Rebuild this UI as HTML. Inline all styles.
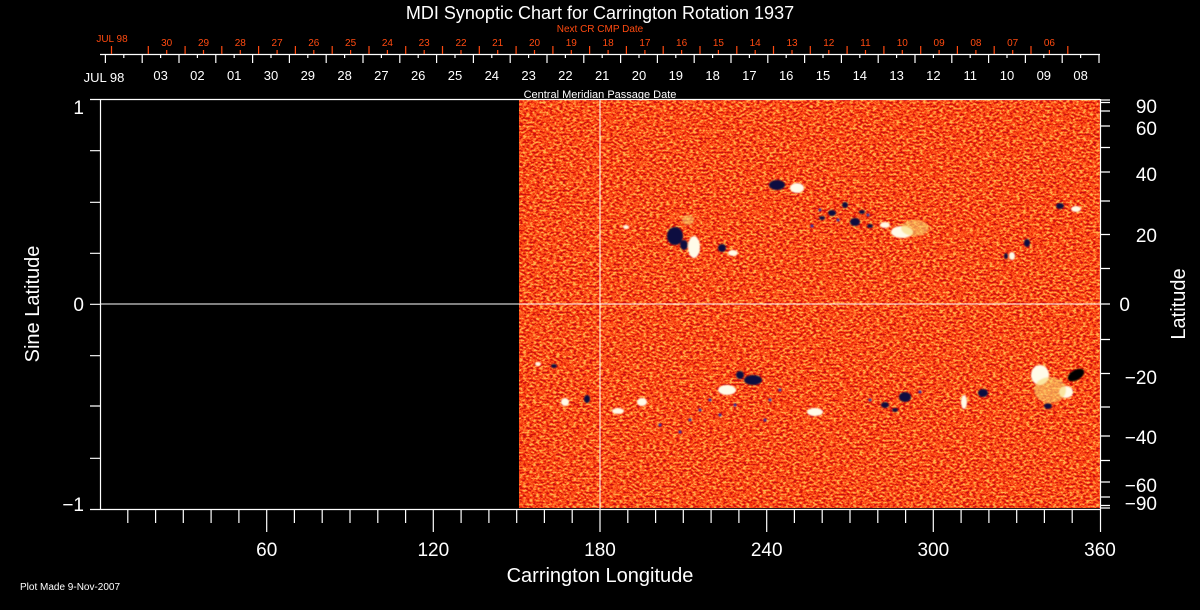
<!DOCTYPE html>
<html><head><meta charset="utf-8"><style>
html,body{margin:0;padding:0;background:#000;}
svg{display:block}
text{font-family:"Liberation Sans",sans-serif;}
</style></head><body>
<svg width="1200" height="610" viewBox="0 0 1200 610" xmlns="http://www.w3.org/2000/svg">
<defs>
<filter id="mag" x="519" y="100" width="581" height="408" filterUnits="userSpaceOnUse" color-interpolation-filters="sRGB">
<feTurbulence type="fractalNoise" baseFrequency="0.3 0.5" numOctaves="2" seed="7" result="n"/>
<feColorMatrix in="n" type="matrix" values="2.6 0 0 0 -0.8  2.6 0 0 0 -0.8  2.6 0 0 0 -0.8  0 0 0 0 1" result="c"/>
<feComponentTransfer in="c">
<feFuncR type="discrete" tableValues="0.78 0.84 0.88 0.9 0.93 0.95 0.97 0.98 1 1 1 1 1 1 1 1"/>
<feFuncG type="discrete" tableValues="0.06 0.08 0.1 0.13 0.17 0.2 0.24 0.28 0.32 0.36 0.4 0.44 0.48 0.52 0.58 0.7"/>
<feFuncB type="discrete" tableValues="0.08 0.02 0.03 0.04 0.05 0.06 0.07 0.08 0.1 0.12 0.14 0.16 0.18 0.2 0.24 0.3"/>
<feFuncA type="table" tableValues="1 1"/>
</feComponentTransfer>
</filter>
<filter id="blur1" x="-20%" y="-20%" width="140%" height="140%"><feGaussianBlur stdDeviation="0.8"/></filter>
</defs>

<rect x="519" y="100" width="581" height="408" fill="#e85a20"/>
<rect x="519" y="100" width="581" height="408" fill="#e85a20" filter="url(#mag)"/>
<g filter="url(#blur1)">
<g fill="#fffbe8">
<ellipse cx="694" cy="247" rx="6" ry="11"/>
<ellipse cx="733" cy="253" rx="5" ry="3"/>
<ellipse cx="797" cy="188" rx="7" ry="5"/>
<ellipse cx="902" cy="232" rx="11" ry="6"/>
<ellipse cx="885" cy="225" rx="5" ry="3"/>
<ellipse cx="1012" cy="256" rx="3" ry="4"/>
<ellipse cx="1076" cy="209" rx="5" ry="3"/>
<ellipse cx="727" cy="390" rx="9" ry="5"/>
<ellipse cx="618" cy="411" rx="6" ry="3"/>
<ellipse cx="642" cy="402" rx="5" ry="4"/>
<ellipse cx="815" cy="412" rx="8" ry="4"/>
<ellipse cx="964" cy="402" rx="3" ry="7"/>
<ellipse cx="1040" cy="375" rx="9" ry="10"/>
<ellipse cx="1066" cy="392" rx="7" ry="6"/>
<ellipse cx="565" cy="402" rx="4" ry="4"/>
<ellipse cx="538" cy="364" rx="3" ry="2"/>
<ellipse cx="626" cy="227" rx="3" ry="2"/>
</g>
<g fill="#f8d870" opacity="0.6">
<ellipse cx="688" cy="220" rx="6" ry="5"/>
<ellipse cx="1050" cy="390" rx="16" ry="13"/>
<ellipse cx="915" cy="228" rx="14" ry="8"/>
</g>
<g fill="#0a0a40">
<ellipse cx="675" cy="236" rx="8" ry="9"/>
<ellipse cx="684" cy="245" rx="4" ry="5"/>
<ellipse cx="722" cy="248" rx="4" ry="4"/>
<ellipse cx="777" cy="185" rx="8" ry="5"/>
<ellipse cx="832" cy="213" rx="4" ry="3"/>
<ellipse cx="845" cy="205" rx="3" ry="3"/>
<ellipse cx="855" cy="222" rx="5" ry="4"/>
<ellipse cx="822" cy="218" rx="3" ry="2"/>
<ellipse cx="862" cy="212" rx="3" ry="2"/>
<ellipse cx="870" cy="226" rx="3" ry="2"/>
<ellipse cx="1060" cy="206" rx="4" ry="3"/>
<ellipse cx="1027" cy="243" rx="3" ry="4"/>
<ellipse cx="1006" cy="256" rx="2" ry="3"/>
<ellipse cx="753" cy="380" rx="9" ry="5"/>
<ellipse cx="740" cy="375" rx="4" ry="4"/>
<ellipse cx="905" cy="397" rx="6" ry="5"/>
<ellipse cx="885" cy="405" rx="4" ry="3"/>
<ellipse cx="895" cy="410" rx="3" ry="2"/>
<ellipse cx="983" cy="393" rx="5" ry="4"/>
<ellipse cx="587" cy="399" rx="3" ry="4"/>
<ellipse cx="554" cy="366" rx="3" ry="2"/>
<ellipse cx="1048" cy="406" rx="4" ry="3"/>
</g>
<ellipse cx="1076" cy="375" rx="9" ry="5" fill="#000" transform="rotate(-30 1076 375)"/>
<g fill="#2a2aa0">
<circle cx="820" cy="210" r="1.5"/><circle cx="838" cy="220" r="1.5"/><circle cx="868" cy="215" r="1.5"/><circle cx="812" cy="226" r="1.5"/>
<circle cx="700" cy="410" r="1.5"/><circle cx="690" cy="420" r="1.5"/><circle cx="720" cy="415" r="1.5"/><circle cx="660" cy="425" r="1.5"/>
<circle cx="770" cy="400" r="1.5"/><circle cx="780" cy="390" r="1.5"/><circle cx="870" cy="400" r="1.5"/><circle cx="920" cy="392" r="1.5"/>
<circle cx="710" cy="400" r="1.5"/><circle cx="735" cy="405" r="1.5"/><circle cx="765" cy="420" r="1.5"/><circle cx="680" cy="432" r="1.5"/>
</g>
</g>

<line x1="100" y1="304" x2="1100" y2="304" stroke="#fff" stroke-width="1"/>
<line x1="600" y1="99" x2="600" y2="509" stroke="#fff" stroke-width="1"/>

<g stroke="#fff" stroke-width="1.2" fill="none">
<line x1="90" y1="99.5" x2="1100" y2="99.5"/>
<line x1="100.5" y1="99" x2="100.5" y2="509"/>
<line x1="90" y1="509.5" x2="1100" y2="509.5"/>
<line x1="1100.5" y1="99" x2="1100.5" y2="532"/>
<path d="M90 150.7H100M90 202.3H100M90 253.3H100M90 304.3H100M90 355.7H100M90 406H100M90 458.3H100"/>
<path d="M1100 100H1110M1100 102.5H1110M1100 111H1110M1100 126H1110M1100 147.5H1110M1100 172H1110M1100 201H1110M1100 234.5H1110M1100 268.5H1110M1100 304H1110M1100 339.5H1110M1100 373.5H1110M1100 407H1110M1100 436H1110M1100 460.5H1110M1100 482H1110M1100 497H1110M1100 505.5H1110M1100 508H1110"/>
<path d="M127.8 509V523M155.6 509V523M183.3 509V523M211.1 509V523M238.9 509V523M266.7 509V532M294.4 509V523M322.2 509V523M350 509V523M377.8 509V523M405.6 509V523M433.3 509V532M461.1 509V523M488.9 509V523M516.7 509V523M544.4 509V523M572.2 509V523M600 509V532M627.8 509V523M655.6 509V523M683.3 509V523M711.1 509V523M738.9 509V523M766.7 509V532M794.4 509V523M822.2 509V523M850 509V523M877.8 509V523M905.6 509V523M933.3 509V532M961.1 509V523M988.9 509V523M1016.7 509V523M1044.4 509V523M1072.2 509V523"/>
<line x1="100" y1="54.5" x2="1100" y2="54.5"/>
<path d="M1099 54V63M1062.2 54V63M1025.4 54V63M988.6 54V63M951.8 54V63M915 54V63M878.2 54V63M841.4 54V63M804.6 54V63M767.8 54V63M731 54V63M694.2 54V63M657.4 54V63M620.6 54V63M583.8 54V63M547 54V63M510.2 54V63M473.4 54V63M436.6 54V63M399.8 54V63M363 54V63M326.2 54V63M289.4 54V63M252.6 54V63M215.8 54V63M179 54V63M142.2 54V63M105.4 54V63"/>
<path d="M1080.6 54V58M1043.8 54V58M1007 54V58M970.2 54V58M933.4 54V58M896.6 54V58M859.8 54V58M823 54V58M786.2 54V58M749.4 54V58M712.6 54V58M675.8 54V58M639 54V58M602.2 54V58M565.4 54V58M528.6 54V58M491.8 54V58M455 54V58M418.2 54V58M381.4 54V58M344.6 54V58M307.8 54V58M271 54V58M234.2 54V58M197.4 54V58M160.6 54V58M123.8 54V58"/>
</g>
<g stroke="#ff4a10" stroke-width="1.2">
<path d="M111.5 46V54M148.3 46V54M185.1 46V54M221.8 46V54M258.6 46V54M295.4 46V54M332.2 46V54M369 46V54M405.7 46V54M442.5 46V54M479.3 46V54M516.1 46V54M552.9 46V54M589.6 46V54M626.4 46V54M663.2 46V54M700 46V54M736.8 46V54M773.5 46V54M810.3 46V54M847.1 46V54M883.9 46V54M920.7 46V54M957.4 46V54M994.2 46V54M1031 46V54M1067.8 46V54"/>
<path d="M166.7 50V54M203.5 50V54M240.3 50V54M277.1 50V54M313.8 50V54M350.6 50V54M387.4 50V54M424.2 50V54M461 50V54M497.7 50V54M534.5 50V54M571.3 50V54M608.1 50V54M644.9 50V54M681.6 50V54M718.4 50V54M755.2 50V54M792 50V54M828.8 50V54M865.5 50V54M902.3 50V54M939.1 50V54M975.9 50V54M1012.7 50V54M1049.4 50V54"/>
</g>

<g fill="#ff4a10" font-size="10" text-anchor="middle">
<text x="600" y="32">Next CR CMP Date</text>
<text x="112" y="42">JUL 98</text>
<text x="166.7" y="46">30</text><text x="203.5" y="46">29</text><text x="240.3" y="46">28</text><text x="277.1" y="46">27</text><text x="313.8" y="46">26</text><text x="350.6" y="46">25</text><text x="387.4" y="46">24</text><text x="424.2" y="46">23</text><text x="461" y="46">22</text><text x="497.7" y="46">21</text><text x="534.5" y="46">20</text><text x="571.3" y="46">19</text><text x="608.1" y="46">18</text><text x="644.9" y="46">17</text><text x="681.6" y="46">16</text><text x="718.4" y="46">15</text><text x="755.2" y="46">14</text><text x="792" y="46">13</text><text x="828.8" y="46">12</text><text x="865.5" y="46">11</text><text x="902.3" y="46">10</text><text x="939.1" y="46">09</text><text x="975.9" y="46">08</text><text x="1012.7" y="46">07</text><text x="1049.4" y="46">06</text>
</g>

<g fill="#fff" text-anchor="middle">
<text x="600" y="19" font-size="18">MDI Synoptic Chart for Carrington Rotation 1937</text>
<text x="600" y="98" font-size="11">Central Meridian Passage Date</text>
<g font-size="13">
<text x="104" y="82">JUL 98</text>
<text x="160.6" y="80">03</text><text x="197.4" y="80">02</text><text x="234.2" y="80">01</text><text x="271" y="80">30</text><text x="307.8" y="80">29</text><text x="344.6" y="80">28</text><text x="381.4" y="80">27</text><text x="418.2" y="80">26</text><text x="455" y="80">25</text><text x="491.8" y="80">24</text><text x="528.6" y="80">23</text><text x="565.4" y="80">22</text><text x="602.2" y="80">21</text><text x="639" y="80">20</text><text x="675.8" y="80">19</text><text x="712.6" y="80">18</text><text x="749.4" y="80">17</text><text x="786.2" y="80">16</text><text x="823" y="80">15</text><text x="859.8" y="80">14</text><text x="896.6" y="80">13</text><text x="933.4" y="80">12</text><text x="970.2" y="80">11</text><text x="1007" y="80">10</text><text x="1043.8" y="80">09</text><text x="1080.6" y="80">08</text>
</g>
<g font-size="19">
<text x="266.7" y="556">60</text><text x="433.3" y="556">120</text><text x="600" y="556">180</text><text x="766.7" y="556">240</text><text x="933.3" y="556">300</text><text x="1100" y="556">360</text>
</g>
<text x="600" y="582" font-size="20">Carrington Longitude</text>
<g font-size="19" text-anchor="end">
<text x="84" y="114">1</text><text x="84" y="311">0</text><text x="84" y="511">−1</text>
</g>
<g font-size="19" text-anchor="end">
<text x="1157" y="113">90</text><text x="1157" y="135">60</text><text x="1157" y="181">40</text><text x="1157" y="242">20</text><text x="1130" y="311">0</text>
<text x="1157" y="384">−20</text><text x="1157" y="444">−40</text><text x="1157" y="492">−60</text><text x="1157" y="510">−90</text>
</g>
<text transform="translate(39 304) rotate(-90)" font-size="20">Sine Latitude</text>
<text transform="translate(1185 304) rotate(-90)" font-size="20">Latitude</text>
<text x="20" y="590" font-size="10" text-anchor="start">Plot Made  9-Nov-2007</text>
</g>
</svg>
</body></html>
